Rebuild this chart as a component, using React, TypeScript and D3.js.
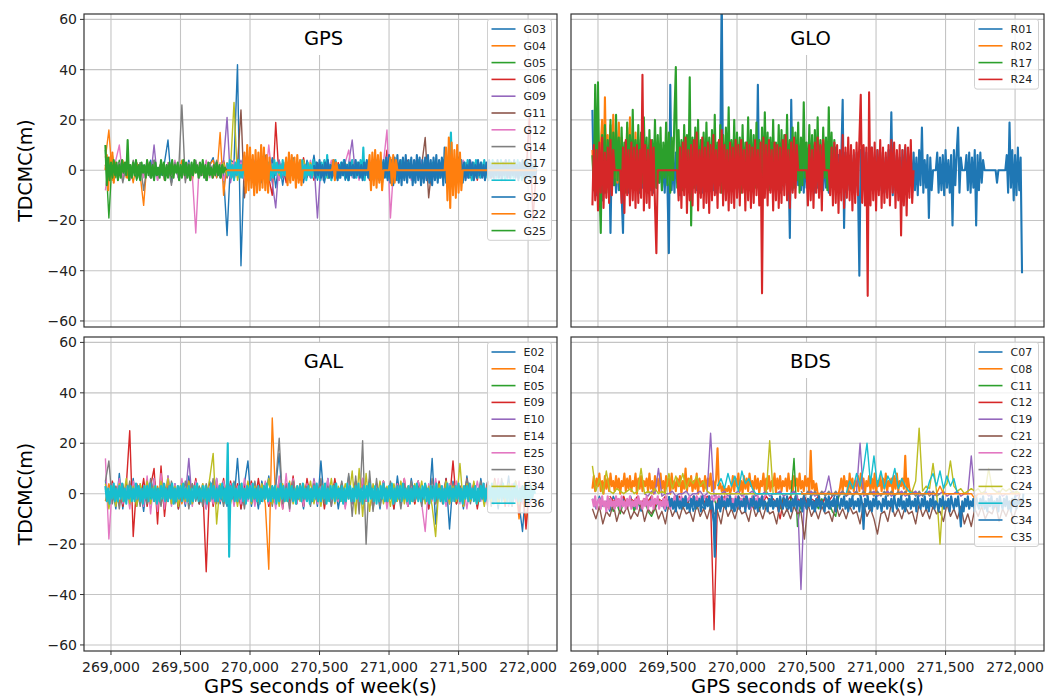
import React from "react";
import * as d3 from "d3";

// ---------------- GPS ----------------
const gpsNames = ["G03", "G04", "G05", "G06", "G09", "G11", "G12", "G14", "G17", "G19", "G20", "G22", "G25"];
const gpsStart = [268960, 268960, 268960, 269710, 268960, 269860, 268960, 268960, 269710, 269835, 270460, 268960, 268960];
const gpsStep = [25, 25, 25, 25, 25, 25, 25, 25, 25, 10, 10, 10, 10];
const G03 = [2,-3,1,-2,3,-1,2,-4,1,3,-2,2,-1,4,-3,1,-2,3,12,-5,2,-3,1,-2,4,-3,2,-1,3,-4,2,5,-3,1,-2,-26,4,3,42,-38,5,-4,3,-6,4,-5,6,-3,5,-7,4,-6,3,-4,5,-3,2,-5,4,-3,6,-4,3,-5,2,-3,4,-2,3,-4,2];
const G04 = [5,16,-4,3,-2,4,-3,2,-5,3,-2,-14,4,-3,2,-2,3,-4,2,-1,3,-2,4,-3,2,-4,3,-2,1,-3,2,4,-3,15,-10,3,-2,4,-3,2,0];
const G05 = [8,-19,6,-3,4,-2,3,-3,2,-4,3,-2,2,-3,4,-2,3,-1,2,-3,3,-2,2,-3,1,-2,3,-2,2,-4,3,-2,2,-3,1,-1,0];
const G06 = [2,-3,3,-2,4,-3,2,-4,3,-2,6,-3,4,-5,3,-4,5,-3,-10,19,-4,3,-5,4,-3,2,-4,5,-3,2,-4,3,-2,4,-3,2,-3,3,-2,2,-3,4,-2,3,-3,2,-4,3,-2,2,-3,8,-2,3,-4,2,-3,4,-2,3,-3,2,-2,3,-3,1,2,-3,3,-2,4,-3,2,-2,3,-3,2,-4,3,-2,2,-3,3,-2,2,-3,4,-2,3,-3,2,-2,22,-20,1];
const G09 = [1,-2,2,-1,3,-2,1,-3,2,-1,2,-2,1,-3,10,-4,2,-1,3,-2,1,-3,2,-2,3,-1,2,-3,1,-2,2,-1,3,-2,4,21,-5,3,-2,4,-3,2,-4,3,-2,4,-3,2,-5,-15,4,-3,2,-4,3,-2,4,-3,2,-3,3,-19,2,-3,4,-2,3,-3,2,-2,3,12,-3,2,-2,3,-3,2,-4,3,-2,4,-3,2,-2,3,-3,2,-3,4,-2,3,-3,2,-4,3,-2,4,-3,2,-3,3,-2,2,-3,4,-2,3,-3,2,0];
const G11 = [1,-2,2,24,-11,3,-2,2,-3,1,-2,3,-2,2,-1,3,-2,2,-3,1,-2,2,-1,3,-2,1,-2,2,-3,1,-2,2,-1,3,-2,1,-2,2,-3,2,-1,3,-2,1,-2,2,-3,1,-2,2,-1,3,-2,1,-2,2,13,-11,2,-1,3,-2,1,-2,2,-3,1,-2,2,-1,3,-2,1,-2,2,-3,1,-2,2,-1,3,-2,1,-2,2,-3,1];
const G12 = [-8,3,-2,4,10,-3,2,-4,3,-2,2,-3,4,-2,3,-4,2,-3,3,-2,4,-3,2,-4,3,-2,-25,3,-2,4,-3,2,-2,3,-4,2,-3,4,-2,3,-4,2,-3,4,-2,3,-4,10,-3,2,-4,3,-2,4,-3,2,-3,3,-2,4,-3,2,-4,3,-2,4,-3,2,-2,3,8,-3,2,-4,3,-2,4,-3,2,-3,3,16,-19,3,-2,4,-3,2,-4,3,-2,4,-3,2,-3,3,-2,4,-3,2,-4,3,-2,4,-3,2,-3,3,-2,4,-3,2,-4,3,-2,4,-3,2,-3,3,-2,4,-3,2,0];
const G14 = [2,-3,4,-2,3,-5,2,-3,4,-2,3,-8,2,-3,4,-2,3,-4,2,-6,3,-2,26,-5,3,-2,4,-3,2,-4,3,-2,4,-3,2,-3,3,-2,4,-3,2,-2,3,-1,0];
const G17 = [1,-2,2,-1,3,-2,1,27,-4,2,-2,3,-1,2,-3,1,-2,2,-1,3,-2,1,-2,2,-3,1,-2,4,-1,3,-2,1,-2,2,-3,1,-2,2,-1,3,-2,1,-2,2,-3,1,-2,2,-1,3,-2,1,-2,2,-3,1,-2,2,-1,3,0];
const G19 = [
  3,-2,4,-3,2,-4,3,-2,4,-3,2,-3,4,-2,3,-4,2,-3,4,-2,
  3,-3,2,-4,3,-2,4,-3,2,-2,3,-4,2,-3,4,-2,3,-1,2,-3,
  4,-2,3,-3,2,-4,3,-2,4,-3,2,-3,3,-2,4,-3,2,-4,3,-2,
  2,-3,4,-2,3,-3,2,-4,3,-2,4,-3,6,-3,2,-4,3,-2,4,-3,
  2,-3,3,-2,4,-3,2,-4,3,-2,4,-3,2,-3,3,-2,4,-3,9,-4,
  3,-2,4,-3,2,-3,3,-2,4,-3,2,-4,3,-2,4,-3,2,-3,3,-2,
  4,-3,2,-4,3,-2,4,-3,2,-3,3,-2,4,-3,2,-4,3,-2,4,-3,
  2,-3,3,-2,4,-3,2,-4,3,-2,4,-3,2,-3,3,-2,4,-3,2,-4,
  3,15,-3,2,-4,3,-2,4,-3,2,-3,3,-2,4,-3,2,-4,3,-2,4,
  -3,2,-3,3,-2,4,-3,2,-4,3,-2,4,-3,2,-3,3,-2,4,-3,2,
  -4,3,-2,4,-3,2,-3,3,-2,4,-3,2,-4,3,-2,4,-3,2,-3,3,
  -2,2,0];
const G20 = [
  2,-3,3,-2,4,-3,2,-4,3,-2,4,-3,2,-3,4,-2,3,-4,2,-3,
  3,-2,4,-3,2,-4,3,-2,2,-3,4,-2,3,-3,2,-4,3,-2,4,-3,
  2,-3,3,-4,4,-3,5,-4,3,-5,4,-3,5,-4,6,-5,4,-6,5,-4,
  6,-5,4,-6,5,-4,6,-5,4,-3,5,-6,4,-5,6,-4,5,-6,4,-5,
  5,-4,6,-5,4,-6,5,-4,6,-5,4,-3,5,-6,9,-5,4,-6,5,-4,
  4,-5,3,-4,5,-3,4,-5,3,-4,2,-3,4,-2,3,-4,2,-3,4,-2,
  3,-3,2,-4,3,-2,4,-3,2,-3,3,-2,4,-3,2,-4,3,-2,4,-3,
  2,-3,3,-2,4,-3,2,-4,3,-2,4,-3,2,-3,3,-2,4,-3,2,-2,
  0];
const G22 = [
  0,6,-8,5,-3,7,-5,3,0,0,
  0,0,0,0,0,3,-3,2,0,0,
  0,0,0,0,0,0,0,0,0,0,0,0,0,0,0,0,0,0,0,0,
  0,0,0,0,0,0,0,0,0,0,0,0,0,0,0,0,0,0,0,0,
  0,0,0,0,0,0,0,0,0,0,0,0,0,0,0,0,0,0,0,0,
  0,0,0,0,0,0,0,0,0,0,0,0,0,0,0,0,0,0,0,0,
  7,-9,10,-8,9,-7,6,-10,8,-9,7,-8,10,-7,9,-8,6,-9,5,0,
  0,0,0,0,0,0,0,0,0,0,
  5,-6,7,-5,6,-4,5,-7,6,-5,4,-6,0,
  0,0,0,0,0,0,0,0,0,0,0,0,0,0,0,0,0,0,0,0,0,
  4,-4,3,0,
  0,0,0,0,0,0,0,0,0,0,0,0,0,0,0,0,0,0,0,0,0,0,
  6,-8,7,-6,8,-7,6,-5,7,-8,0,
  0,0,0,0,
  5,-6,6,-5,4,0,
  0,0,0,0,0,0,0,0,0,0,0,0,0,0,0,0,0,0,0,0,0,0,0,0,0,0,0,0,0,0,0,0,0,0,
  9,-12,13,-15,11,-10,8,-11,10,-9,7,-8,0,
  0,0,0,0,0,0,0,0,0,0,0,0,0,0,0,0,0,0,0,0,0,0,0,0,0,0,0,0,0,0,0,0,0,0,0,0,0,0,0,0,0,0,0,0,0,0,0,0,0,0,0,0,0];
const G25 = [
  10,-6,5,-4,3,-3,4,-2,3,-4,2,-3,4,-1,3,-2,12,-4,2,-3,
  3,-2,4,-3,2,-4,3,-1,2,-3,4,-2,3,-3,2,-4,3,-2,1,-3,
  4,-2,3,-4,2,-3,3,-2,4,-3,2,-1,3,-4,2,-3,4,-2,3,-3,
  2,-4,3,-2,4,-1,2,-3,3,-2,4,-3,2,-4,3,-2,1,-3,2,-2,
  3,-2,2,-3,2,-1,1,0];
const gpsValues = [G03, G04, G05, G06, G09, G11, G12, G14, G17, G19, G20, G22, G25];

// ---------------- GLONASS ----------------
const gloNames = ["R01", "R02", "R17", "R24"];
const gloStart = [268960, 268960, 268960, 268960];
const gloStep = [10, 10, 10, 10];
const R01 = [
  24,-8,6,-10,5,-7,8,-12,4,-9,6,-5,7,-25,8,-6,5,-9,7,-8,
  6,-10,-25,7,-5,8,-9,6,-7,5,-8,10,-6,7,-9,6,-7,8,-5,9,
  -6,7,-8,5,-9,6,-7,8,-5,7,-8,6,-9,5,-7,-33,34,-8,6,-9,
  7,-5,8,-10,6,-7,9,-6,7,-8,5,-9,10,-7,6,-8,7,-5,8,-9,
  6,-8,7,-6,9,-7,5,-8,6,-9,7,-6,8,72,-10,7,-5,8,-9,6,
  -7,8,-5,7,-8,6,-9,5,-7,8,-6,9,-8,6,-7,5,-9,7,-6,34,
  -8,6,-9,7,-5,8,-7,6,-8,5,-6,8,-9,7,-5,6,-8,7,-6,9,
  -7,5,-27,28,-8,6,-7,9,-6,5,-8,7,-9,6,-7,8,-5,7,-8,6,
  -9,5,-7,8,-6,9,-8,6,-7,5,-9,7,-6,8,-5,9,-7,6,-8,5,
  28,-23,7,-9,6,-8,5,-7,6,-9,7,-6,-42,8,-6,9,-8,7,-10,6,
  -8,9,-7,5,-9,8,-6,7,-8,6,-9,5,-7,8,-6,23,-10,7,-8,6,
  -9,5,-7,8,-6,9,-8,7,-5,6,-9,7,-8,5,-10,8,-6,17,-9,4,
  -7,6,-19,5,-8,0,0,0,7,-9,5,-8,6,-10,8,-7,4,-9,6,-22,
  8,-6,7,17,-9,5,0,0,0,6,-8,7,-9,5,-7,8,-22,6,-8,7,
  -5,4,0,0,0,0,0,0,0,0,0,-5,0,0,0,0,0,0,6,-9,
  19,-7,8,-12,6,-10,9,-8,5,-41];
const R02 = [8,-6,12,-4,15,-3,10,20,-5,29,-2,14,-6,18,-4,22,-3,16,-5,19,-2,13,-4,9,-3,17,-5,21,-2,11,-6,15,-3,12,-4,8,0];
const R17 = [
  6,-8,34,-6,35,-4,-25,14,-5,18,-9,12,-3,20,-7,15,-6,22,-4,13,
  -8,17,-5,11,-9,19,-3,14,-7,24,-6,12,-4,18,-8,15,-5,21,-3,13,
  -9,16,-6,12,-4,20,-7,14,-5,17,-8,11,-3,19,-6,15,-9,13,-4,22,
  41,-7,16,-5,12,-8,18,-4,14,-6,37,-22,13,-7,17,-5,20,-9,12,-4,
  15,-6,19,-3,13,-8,16,-5,22,-7,11,-4,18,-9,14,-6,17,-3,25,-8,
  12,-5,20,-7,15,-4,13,-9,18,-6,11,-3,21,-8,16,-5,14,-7,19,-4,
  12,-9,17,-6,23,-3,15,-8,13,-5,20,-7,11,-4,18,-9,16,-6,14,-3,
  22,-8,12,-5,17,-7,15,-4,19,-9,13,-6,27,-3,11,-8,18,-5,14,-7,
  16,-4,21,-9,12,-6,17,-3,13,-8,25,-5,15,-7,12,-4,0];
const R24 = [
  -14,10,-12,8,-16,11,-9,13,-15,7,-11,9,-13,12,-10,8,0,0,0,0,
  0,-13,9,-17,12,-10,8,-14,11,-12,9,-15,10,-13,8,-11,38,-16,10,-13,
  8,-15,12,-10,9,-14,-33,0,0,0,0,0,0,0,0,0,0,0,0,0,
  0,0,-12,9,-15,11,-10,13,-17,8,-12,10,-14,12,-9,15,-16,8,-11,13,
  -15,9,-13,11,-17,10,-12,14,-10,8,-15,12,-9,16,-14,10,-12,8,-16,11,
  -13,9,-15,12,-11,10,-14,12,-9,8,-16,11,-12,10,-15,9,-13,12,-10,8,
  -14,11,-49,13,-11,10,-14,12,-9,8,-16,11,-12,10,-15,9,-13,12,-10,14,
  -12,8,-15,11,-9,13,-11,10,0,0,0,0,0,0,0,-14,10,-12,8,-15,
  11,-9,13,-11,10,-16,12,0,0,0,0,-10,9,-14,11,-13,10,-17,8,-12,
  14,-15,9,-11,13,-12,10,-16,8,-13,11,-10,12,30,-13,10,-14,9,-50,31,
  -14,9,-12,11,-16,8,-10,12,-15,9,-13,7,-11,10,-14,12,-9,11,-15,8,
  -12,10,-26,8,-14,10,-18,9,-11,12,-13,0];
const gloValues = [R01, R02, R17, R24];

// ---------------- Galileo ----------------
const galNames = ["E02", "E04", "E05", "E09", "E10", "E14", "E25", "E30", "E34", "E36"];
const galStart = [268960, 268960, 268960, 268960, 268960, 269460, 268960, 268960, 268960, 268960];
const galStep = [25, 25, 25, 25, 25, 25, 25, 25, 25, 10];
const E02 = [
  5,-4,3,-6,8,-6,4,-3,6,-5,3,-7,5,-2,6,-4,3,-5,7,-3,
  4,-6,2,-5,7,-3,5,-4,3,-6,5,-2,6,-4,3,-5,4,-3,14,-6,
  4,13,-5,3,-6,5,-2,7,-4,3,16,-5,4,-3,6,-4,2,-6,5,-3,
  4,-5,13,-4,6,-3,5,-6,3,-4,7,-2,5,-5,4,-3,6,-4,3,-6,
  5,-3,4,-6,7,-4,3,-5,6,-2,5,-4,3,-6,14,-12,4,-3,6,-14,
  5,-4,3,-6,7,-3,4,-5,6,-2,5,-4,3,-6,4,-3,7,-5,3,-4,
  -15,4,-3,0];
const E04 = [-3,4,-2,3,-4,2,-3,4,-2,3,-4,2,-3,4,-2,3,-4,2,-3,4,-2,3,-4,2,-3,4,-2,3,-4,2,-3,4,-2,3,-4,2,-3,4,-2,3,-4,2,-3,4,-2,3,-4,-30,30,-3,4,-2,3,-4,2,-3,4,-2,3,-4,2,-3,4,-2,3,-4,2,-3,4,-2,3,-4,2,-3,4,-2,3,-4,2,-3,4,-2,3,-4,2,-3,4,-2,3,-4,2,-3,4,-2,3,-4,2,-3,4,-2,3,-4,2,-3,4,-2,3,-4,2,-3,4,-2,3,-4,2,-3,4,-2,3,-10,2,-12,3,0];
const E05 = [2,-3,2,-2,3,-2,2,-3,2,-2,3,-4,2,-2,3,-2,2,-3,2,-2,3,-2,2,-3,2,-2,3,-2,2,-3,2,-2,3,-2,2,-3,2,-2,3,-2,0];
const E09 = [
  3,-4,5,-2,4,-5,3,25,-17,4,-3,6,-5,3,10,-12,11,-9,5,-4,
  3,-6,4,-3,5,-2,6,-4,3,-31,4,-5,3,-2,6,-4,5,-3,4,-6,
  3,-2,5,-4,6,-3,4,-5,3,-2,5,-6,4,-3,7,-4,3,-5,6,-2,
  4,-3,5,-6,3,-4,6,-2,4,-5,3,-3,5,-4,6,-2,3,-6,4,-3,
  5,-4,3,-6,4,-2,6,-5,3,-4,5,-3,4,-6,3,-2,5,-4,6,-3,
  13,-4,3,-5,6,-2,4,-6,3,-4,5,-3,6,-2,4,-5,3,-4,5,-8,
  3,-14,2,0];
const E10 = [1,-3,2,-2,4,-1,2,-3,1,-2,3,-4,2,-1,3,-2,4,-3,1,-2,2,-3,1,-1,14,-4,2,-3,3,-1,2,-2,4,-3,1,-2,3,-1,2,-4,1,-2,3,-3,2,-1,4,-2,1,-3,2,-2,3,-1,2,-4,1,-2,3,-3,6,-1,2,-2,4,-3,1,-2,3,-1,2,-4,1,-2,3,-3,2,-1,4,-2,0];
const E14 = [2,-3,1,-2,3,-1,2,-4,1,-2,3,-2,1,-3,2,-1,3,-2,1,-4,2,-1,3,-2,1,-3,2,-1,3,-2,1,-3,2,-1,3,-2,1,-4,2,-1,3,-2,1,-3,2,-1,3,-2,1,-2,0];
const E25 = [
  14,-18,4,-3,6,-4,3,-6,5,-2,4,-5,7,-8,6,-7,8,-6,7,-5,
  4,-3,6,-4,3,-5,5,-2,4,-6,3,-4,6,-3,5,-2,4,-5,3,-4,
  6,-3,4,-5,3,-2,5,-4,3,-6,7,-6,8,-7,6,-4,3,-5,4,-3,
  5,-4,3,-2,6,-5,4,-3,3,-6,5,-2,4,-4,6,-3,3,-5,4,-2,
  5,-6,3,-4,4,-2,6,-5,3,-3,5,-4,-15,4,-3,6,-2,3,-5,4,
  -3,5,-4,3,-6,4,-2,5,-3,4,-5,3,-4,6,-2,3,-5,4,-3,5,
  -4,3,-5,0];
const E30 = [
  5,13,-4,3,-6,4,-3,5,-2,4,-5,3,-4,6,-3,2,-5,4,-3,5,
  -4,3,-2,5,-6,4,-3,3,-5,4,-2,6,-4,3,-5,4,-3,5,-2,3,
  -6,4,-3,5,-4,3,-2,6,-5,4,22,-4,3,-6,5,-3,4,-2,3,-5,
  4,-3,6,-4,3,-5,4,-2,5,-3,8,-9,7,-8,21,-20,9,-7,6,-5,
  4,-3,5,-4,3,-6,4,-2,5,-3,3,-5,4,-3,6,-4,3,-2,5,-4,
  4,-3,3,-5,6,-4,3,-2,5,-3,4,-5,3,-4,6,-2,3,-5,4,-3,
  3,-4,5,0];
const E34 = [
  4,-6,3,-5,4,-3,6,-4,3,-5,4,-2,5,-4,3,-3,5,-2,6,-4,
  3,-5,4,-3,5,-4,3,-2,4,-3,6,16,-12,4,-3,5,-4,3,-5,4,
  -2,5,-4,3,-3,4,-2,6,-4,3,-5,4,-3,5,-4,3,-3,4,-2,5,
  -4,3,-5,4,-3,6,-4,3,-3,4,-2,9,-8,10,-9,8,-7,4,-3,5,
  -4,3,-5,4,-3,5,-4,3,-3,4,-2,5,-4,3,-5,-17,4,-3,5,-4,
  3,-3,12,-5,4,-3,5,-4,3,-5,4,-3,5,-4,3,-3,4,-2,5,-4,
  3,-5,4,0];
const E36 = [
  3,-3,2,-4,3,-2,4,-3,2,-3,3,-2,4,-3,2,-4,3,-2,3,-3,
  2,-3,4,-2,3,-3,2,-4,3,-2,3,-3,4,-2,2,-3,3,-4,2,-3,
  3,-2,4,-3,2,-3,3,-2,4,-4,2,-3,3,-2,3,-3,4,-2,2,-3,
  3,-4,2,-3,3,-2,4,-3,2,-3,3,-2,3,-4,2,-3,4,-2,3,-3,
  2,-3,3,-2,4,-3,2,-4,20,-25,3,-2,4,-3,2,-3,3,-2,4,-3,
  2,-4,3,-2,3,-3,4,-2,2,-3,3,-4,2,-3,3,-2,4,-3,2,-3,
  3,-2,3,-4,2,-3,4,-2,3,-3,2,-3,4,-2,3,-3,2,-4,3,-2,
  3,-3,4,-2,2,-3,3,-4,2,-3,3,-2,4,-3,2,-3,3,-2,4,-4,
  2,-3,3,-2,3,-3,4,-2,2,-3,3,-4,2,-3,4,-2,3,-3,2,-3,
  3,-2,4,-3,2,-4,3,-2,3,-3,4,-2,2,-3,3,-4,2,-3,3,-2,
  4,-3,2,-3,3,-2,4,-4,2,-3,3,-2,3,-3,4,-2,2,-3,3,-4,
  2,-3,3,-2,4,-3,2,-3,3,-2,4,-3,2,-4,3,-2,3,-3,4,-2,
  2,-3,3,-4,2,-3,4,-2,3,-3,2,-3,3,-2,4,-3,2,-4,3,-2,
  3,-3,4,-2,2,-3,3,-4,2,-3,3,-2,4,-3,2,-3,3,-2,4,-4,
  2,-3,3,-2,3,-3,4,-2,2,-3,3,-4,2,-3,4,-2,3,-3,2,-3,
  3,-2,4,-3,2,-3,3,-2,2,0];
const galValues = [E02, E04, E05, E09, E10, E14, E25, E30, E34, E36];

// ---------------- BeiDou ----------------
const bdsNames = ["C07", "C08", "C11", "C12", "C19", "C21", "C22", "C23", "C24", "C25", "C34", "C35"];
const bdsStart = [268960, 268960, 269035, 269085, 269335, 268960, 268960, 270460, 268960, 269860, 269510, 270460];
const bdsStep = [25, 10, 25, 25, 25, 25, 10, 25, 25, 25, 10, 25];
const C07 = [-2,-6,-1,-5,-3,-7,-1,-4,-6,-2,-5,-1,-6,-3,-7,-2,-5,-1,-6,-3,-4,-7,-2,-5,-1,-6,-3,-5,-2,-7,-1,-4,-6,-2,-5,-12,-3,-6,-1,-5,-2,-7,-3,-5,-1,-6,-2,-4,-7,-1,-5,-3,-6,-2,-5,-1,-7,-3,-4,-2,-6,-1,-5,-3,-7,-2,-4,-1,-6,-3,0];
const C08 = [
  2,7,1,6,3,8,1,5,0,7,2,6,1,8,3,5,1,7,2,6,
  0,5,3,8,1,6,2,7,1,5,3,8,0,6,2,7,1,5,3,6,
  1,8,2,5,0,7,3,6,1,8,2,5,1,7,3,6,0,8,2,5,
  1,6,3,7,0,5,2,10,1,6,3,7,1,5,2,8,0,6,3,5,
  1,7,2,6,3,8,1,5,2,6,
  18,2,4,1,3,0,2,1,3,0,
  2,7,1,6,3,8,1,5,0,7,2,6,1,8,3,5,1,7,2,6,
  0,5,3,8,1,6,2,7,1,5,3,8,0,6,2,7,1,5,3,6,
  1,8,2,5,0,7,3,6,1,8,2,5,1,7,3,6,0,17,2,5,
  1,4,0,0,0,0,0,0,0,0,0,0,0,0,0,0,0,0,2,6,
  1,7,3,5,0,8,2,6,1,5,3,7,1,8,2,6,0,5,3,7,
  1,6,2,8,0,5,3,7,1,6,2,8,1,5,3,6,0,7,2,8,
  1,5,3,6,2,15,1,6,2,0];
const C11 = [-3,-6,-2,-7,-4,-8,-3,-6,-2,-7,-4,-5,-2,-7,-9,-6,-2,-5,-3,-6,-2,-4,-3,-6,-2,-5,-3,-6,-2,-4,-3,-5,-2,-6,-3,-5,-2,-4,-3,-6,-2,-5,-3,-4,-2,-6,-3,-5,-2,-4,-3,-6,-2,-5,-3,14,-13,-3,-5,-2,-4,-3,-6,-2,-5,-3,-7,-9,0];
const C12 = [-1,-3,-2,-4,-1,-5,-2,-3,-1,-4,-2,-3,-1,-5,-2,-3,-1,-4,-2,-3,-1,-4,-2,-5,-1,-3,-2,-4,-1,-3,-54,-2,-4,-1,-3,-2,-4,-1,-3,-2,-5,-1,-3,-2,-4,-1,-3,-2,-4,-10,-2,-3,-1,-4,-2,-3,-1,-5,-2,-3,-1,-4,-2,-3,-1,0];
const C19 = [0,-1,1,0,10,-1,0,0,1,-1,0,0,1,-1,0,0,1,-1,0,24,-1,0,0,1,-1,0,0,1,-1,0,0,1,-1,0,0,1,-1,0,0,1,-1,0,0,1,-1,-38,0,0,1,-1,0,0,1,7,-1,0,0,1,-1,0,0,1,20,-1,0,0,1,-1,0,0,1,-1,0,0,1,-1,0,0,1,-1,0,0,1,-1,0,0,1,-1,0,0,1,-1,0,0,15,-1,0,0,1,-1,0,0,1,-1,0,0,1,-1,0];
const C21 = [
  -6,-10,-5,-12,-7,-9,-4,-11,-6,-8,-5,-10,-7,-9,-4,-11,-6,-8,-5,-10,
  -7,-12,-4,-9,-6,-10,-5,-8,-7,-11,-4,-9,-6,-10,-5,-8,-7,-12,-4,-9,
  -6,-10,-5,-8,-7,-11,-4,-9,-6,-10,-5,-8,-7,-12,-4,-9,-6,-10,-5,-8,
  -7,-18,-4,-9,-6,-10,-5,-8,-7,-11,-4,-9,-6,-10,-5,-8,-7,-12,-4,-9,
  -6,-10,-16,-8,-7,-11,-4,-9,-6,-10,-5,-8,-7,-12,-4,-9,-6,-10,-5,-8,
  -7,-11,-4,-9,-6,-10,-5,-12,-8,-13,-6,-9,-5,-10,-7,-8,-4,-11,-6,-9,
  -5,-10,-6,0];
const C22 = [
  -2,-5,-1,-6,-3,-2,-6,-1,-5,-3,-7,-1,-6,-2,-5,-3,-6,-1,-5,-2,
  -6,-1,-5,-3,-6,-2,-5,-1,-6,-3,-5,-2,-6,-1,-4,-3,-6,-2,-5,-1,
  -6,-3,-5,-1,-6,-2,-4,-1,-6,-3,-5,-2,-6,-1,-5,-3,-6,-2,-4,-1,
  -3,-1,-2,-4,-1,-3,-2,-1,-3,-2,-1,-4,-2,-1,-3,-1,-2,-4,-1,-3,
  -2,-1,-3,-2,-1,-2,-1,-3,-2,-1,-2,-1,-3,-1,-2,-4,-1,-2,-3,-1,
  -5,-2,-6,-1,-5,-3,-6,-2,-5,-1,-6,-3,-5,-2,-6,-1,-4,-2,-5,-1,
  -3,-2,-1,-2,-1,0];
const C23 = [1,-1,1,-1,1,-1,1,-1,1,-1,1,-1,1,-1,1,-1,1,-1,1,-1,1,-1,1,-1,1,-1,1,-1,1,-1,1,-1,1,-1,1,-1,1,-1,1,-1,0];
const C24 = [
  11,1,6,0,9,1,0,2,1,0,1,2,0,1,10,0,1,0,2,0,
  1,0,8,2,7,3,8,2,6,4,7,3,5,1,0,0,0,0,0,0,
  0,0,0,0,0,0,0,0,0,0,0,21,0,0,0,0,0,0,0,0,
  0,0,0,0,0,0,0,0,0,0,0,0,0,0,0,0,0,0,0,0,
  0,0,0,0,0,0,0,0,0,0,0,0,1,5,26,1,3,2,12,1,
  -20,2,4,13,3,1,2,0,1,2,1,2,0,1,10,2,1,0,2,1,
  2,0,1,0];
const C25 = [3,6,2,8,3,7,1,9,4,6,2,0,0,0,0,0,0,0,0,0,0,0,0,0,0,0,0,0,0,0,0,0,0,0,0,0,0,0,5,2,8,3,10,20,4,15,3,9,2,7,4,10,2,6,3,1,0,0,0,0,0,5,8,3,9,2,7,3,6,0];
const C34 = [
  -1,-5,-2,-6,-3,-7,-1,-5,-3,-6,-2,-5,-1,-6,-4,-7,-2,-5,-1,-6,
  -3,-5,-2,-7,-1,-4,-6,-2,-5,-1,-6,-3,-7,-25,-4,-6,-2,-7,-1,-5,
  -3,-6,-2,-5,-1,-6,-4,-7,-2,-5,-1,-6,-3,-5,-2,-7,-1,-4,-6,-2,
  -5,-1,-6,-3,-7,-2,-5,-1,-6,-3,-4,-7,-2,-5,-1,-6,-3,-5,-2,-7,
  -1,-4,-6,-2,-5,-1,-6,-3,-7,-2,-5,-1,-6,-3,-5,-2,-7,-1,-4,-6,
  -2,-5,-1,-6,-3,-7,-2,-5,-1,-6,-3,-4,-7,-2,-5,-1,-6,-3,-5,-2,
  -7,-1,-4,-6,-2,-5,-1,-6,-3,-7,-2,-5,-1,-6,-3,-5,-2,-7,-1,-4,
  -14,-2,-5,-1,-6,-3,-7,-2,-5,-1,-6,-3,-4,-7,-2,-5,-1,-6,-3,-5,
  -2,-7,-1,-4,-6,-2,-5,-1,-6,-3,-7,-2,-5,-1,-6,-3,-5,-2,-7,-1,
  -4,-6,-2,-5,-1,-6,-3,-7,-2,-5,-1,-6,-3,-4,-7,-2,-5,-1,-6,-3,
  -5,-2,-7,-1,-4,-6,-2,-5,-1,-6,-13,-3,-7,-2,-5,-1,-6,-3,-5,-2,
  -7,-1,-4,-6,-2,-5,-1,-6,-3,-7,-2,-5,-1,-6,-3,-5,-2,-7,-1,-4,
  -6,-2,-5,-1,-6,-3,-7,-2,-5,-1,-6,-3,-4,-2,-5,0];
const C35 = [0,0,0,0,0,0,0,0,0,0,0,0,0,0,0,0,0,0,0,0,0,0,0,0,0,0,0,0,0,0,0,0,0,0,0,0,0,0,0,0,3,0,0,0,0,0,0,0,0,0,-2,0,0,0,0,0,0,0,0,0,0,0,0,0];
const bdsValues = [C07, C08, C11, C12, C19, C21, C22, C23, C24, C25, C34, C35];

// ---------------- axes ----------------
const xTicks = [269000, 269500, 270000, 270500, 271000, 271500, 272000];
const yTicks = [-60, -40, -20, 0, 20, 40, 60];
const xDomain = [268806, 272208];
const yDomain = [-62.4, 62.15];

const FONT = "DejaVu Sans, sans-serif";
const palette = d3.schemeCategory10;

type Panel = {
  title: string;
  names: string[];
  values: number[][];
  start: number[];
  step: number[];
  col: number;
  row: number;
};

const panels: Panel[] = [
  { title: "GPS", names: gpsNames, values: gpsValues, start: gpsStart, step: gpsStep, col: 0, row: 0 },
  { title: "GLO", names: gloNames, values: gloValues, start: gloStart, step: gloStep, col: 1, row: 0 },
  { title: "GAL", names: galNames, values: galValues, start: galStart, step: galStep, col: 0, row: 1 },
  { title: "BDS", names: bdsNames, values: bdsValues, start: bdsStart, step: bdsStep, col: 1, row: 1 },
];

const colX = [
  [84, 557],
  [571, 1044],
];
const rowY = [
  [14, 327],
  [337, 651],
];

const fmtX = d3.format(",");
const fmtY = d3.format("d");

function PanelView({ p, idx }: { p: Panel; idx: number }) {
  const [x0, x1] = colX[p.col];
  const [y0, y1] = rowY[p.row];
  const x = d3.scaleLinear().domain(xDomain).range([x0, x1]);
  const y = d3.scaleLinear().domain(yDomain).range([y1, y0]);
  const clipId = `clip-${idx}`;

  const line = d3
    .line<[number, number]>()
    .x((d) => x(d[0]))
    .y((d) => y(d[1]));

  const paths = p.values.map((vals, k) => {
    const pts: [number, number][] = vals.map((v, i) => [p.start[k] + i * p.step[k], v]);
    return line(pts) || "";
  });

  // finely sampled series are drawn a little heavier so their bands read as filled
  const widthFor = (k: number) => (p.step[k] <= 10 ? 2.1 : 1.4);

  const n = p.names.length;
  const rowH = 16.8;
  const lgW = 64;
  const lgH = 19.4 + (n - 1) * rowH;
  const lgX = x1 - 5.5 - lgW;
  const lgY = y0 + 5.3;

  const cx = (x0 + x1) / 2 + 3;
  const titleW = 44;

  return (
    <g>
      <defs>
        <clipPath id={clipId}>
          <rect x={x0} y={y0} width={x1 - x0} height={y1 - y0} />
        </clipPath>
      </defs>
      <rect x={x0} y={y0} width={x1 - x0} height={y1 - y0} fill="#fff" />
      <g stroke="#c4c4c4" strokeWidth={1.1}>
        {xTicks.map((t) => (
          <line key={"gx" + t} x1={x(t)} x2={x(t)} y1={y0} y2={y1} />
        ))}
        {yTicks.map((t) => (
          <line key={"gy" + t} x1={x0} x2={x1} y1={y(t)} y2={y(t)} />
        ))}
      </g>
      <g clipPath={`url(#${clipId})`} fill="none" strokeLinejoin="round">
        {paths.map((d, k) => (
          <path key={p.names[k]} d={d} stroke={palette[k % 10]} strokeWidth={widthFor(k)} />
        ))}
      </g>
      <rect x={cx - titleW / 2 - 4} y={y0 + 6} width={titleW + 8} height={35} fill="#fff" />
      <text x={cx} y={y0 + 31} textAnchor="middle" fontSize={19.5} fontFamily={FONT} fill="#000">
        {p.title}
      </text>
      <rect x={x0} y={y0} width={x1 - x0} height={y1 - y0} fill="none" stroke="#333" strokeWidth={1.2} />
      {p.col === 0 &&
        yTicks.map((t) => (
          <g key={"yt" + t}>
            <line x1={x0 - 4} x2={x0} y1={y(t)} y2={y(t)} stroke="#333" strokeWidth={1} />
            <text x={x0 - 7} y={y(t) + 5} textAnchor="end" fontSize={14} fontFamily={FONT} fill="#222">
              {fmtY(t)}
            </text>
          </g>
        ))}
      {p.col === 0 && (
        <text
          transform={`translate(32,${(y0 + y1) / 2}) rotate(-90)`}
          textAnchor="middle"
          fontSize={19}
          fontFamily={FONT}
          fill="#000"
        >
          TDCMC(m)
        </text>
      )}
      {p.row === 1 &&
        xTicks.map((t) => (
          <g key={"xt" + t}>
            <line x1={x(t)} x2={x(t)} y1={y1} y2={y1 + 4} stroke="#333" strokeWidth={1} />
            <text x={x(t)} y={y1 + 21} textAnchor="middle" fontSize={14} fontFamily={FONT} fill="#222">
              {fmtX(t)}
            </text>
          </g>
        ))}
      {p.row === 1 && (
        <text x={(x0 + x1) / 2} y={693} textAnchor="middle" fontSize={19.5} fontFamily={FONT} fill="#000">
          GPS seconds of week(s)
        </text>
      )}
      <g>
        <rect
          x={lgX}
          y={lgY}
          width={lgW}
          height={lgH}
          rx={2.5}
          fill="#fff"
          fillOpacity={0.8}
          stroke="#d0d0d0"
          strokeWidth={1}
        />
        {p.names.map((nm, k) => {
          const ly = lgY + 9.7 + k * rowH;
          return (
            <g key={"lg" + nm}>
              <line x1={lgX + 4} x2={lgX + 28} y1={ly} y2={ly} stroke={palette[k % 10]} strokeWidth={1.6} />
              <text x={lgX + 36} y={ly + 4} fontSize={11} fontFamily={FONT} fill="#222">
                {nm}
              </text>
            </g>
          );
        })}
      </g>
    </g>
  );
}

export default function App() {
  return (
    <svg
      width={1058}
      height={697}
      viewBox="0 0 1058 697"
      style={{ position: "absolute", left: 0, top: 0, background: "#fff" }}
    >
      <rect x={0} y={0} width={1058} height={697} fill="#fff" />
      {panels.map((p, i) => (
        <PanelView key={p.title} p={p} idx={i} />
      ))}
    </svg>
  );
}
